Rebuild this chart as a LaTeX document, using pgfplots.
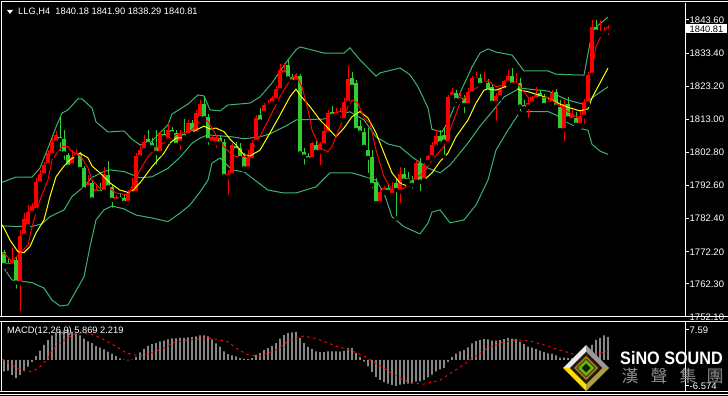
\documentclass[border=0pt]{standalone}
\usepackage{fontspec}
\setmainfont{Liberation Sans}
\newfontfamily\cjk{Noto Sans CJK TC}
\usepackage{pgfplots}
\usepackage{pgfplotstable}
\pgfplotsset{compat=1.18}

\definecolor{bbgreen}{HTML}{3CB371}
\definecolor{bullred}{HTML}{FF0000}
\definecolor{beargreen}{HTML}{32CD32}
\definecolor{maYellow}{HTML}{FFFF00}
\definecolor{histgray}{HTML}{D0D0D0}

\pgfplotstableread{
k o h l c
2 1767.9 1773.3 1767.6 1769.7
4 1762.5 1778.9 1753.4 1777.1
5 1777.1 1784.0 1775.8 1782.3
6 1780.1 1786.6 1779.5 1784.5
7 1784.2 1787.2 1783.5 1786.3
8 1785.1 1794.9 1784.4 1793.8
9 1793.3 1797.4 1792.8 1796.2
10 1795.8 1799.9 1795.2 1798.9
11 1798.9 1803.6 1798.3 1802.5
12 1802.0 1807.2 1801.4 1806.1
13 1805.8 1809.4 1805.1 1808.2
17 1798.8 1803.5 1798.3 1801.3
18 1801.5 1803.8 1800.5 1802.5
21 1792.1 1795.9 1791.2 1793.3
23 1790.4 1792.8 1789.1 1791.4
25 1790.7 1798.4 1790.3 1796.2
28 1787.9 1789.7 1787.2 1789.0
31 1787.3 1791.2 1785.9 1790.2
32 1790.2 1794.9 1789.7 1791.2
33 1790.3 1802.6 1789.7 1801.7
34 1801.3 1805.1 1800.8 1803.5
35 1803.5 1808.2 1802.9 1806.1
39 1802.7 1809.4 1802.3 1808.5
41 1806.6 1811.8 1806.0 1809.7
44 1805.8 1809.7 1803.0 1808.7
46 1808.2 1812.8 1807.5 1811.9
48 1808.7 1815.9 1808.2 1815.0
49 1813.3 1819.0 1812.8 1817.7
52 1805.8 1808.2 1804.5 1807.5
53 1805.6 1808.2 1803.5 1807.5
56 1795.3 1797.4 1789.2 1796.2
57 1795.8 1805.7 1795.2 1805.1
61 1797.9 1803.5 1797.4 1801.5
62 1800.5 1806.6 1799.8 1805.8
63 1806.1 1814.3 1805.7 1813.3
65 1815.0 1818.0 1814.3 1817.4
66 1817.4 1819.0 1816.5 1818.1
67 1817.9 1820.2 1817.4 1819.5
68 1818.9 1823.3 1818.3 1822.3
69 1822.0 1830.0 1821.4 1828.2
70 1826.9 1830.3 1826.3 1828.2
73 1824.6 1827.3 1823.9 1826.3
77 1800.7 1806.0 1800.2 1805.6
79 1803.0 1806.0 1798.3 1805.4
80 1805.1 1811.3 1804.5 1809.5
81 1808.7 1815.9 1808.2 1814.9
83 1814.3 1816.5 1813.7 1815.4
84 1814.6 1816.5 1812.8 1815.6
85 1812.8 1819.6 1812.2 1818.4
86 1818.1 1829.4 1817.7 1825.3
94 1787.2 1791.5 1786.6 1790.6
95 1790.7 1792.5 1790.3 1791.8
97 1789.7 1793.7 1789.1 1791.4
99 1790.7 1798.4 1786.6 1796.2
103 1793.8 1800.5 1793.1 1799.5
105 1794.3 1799.5 1793.7 1798.9
106 1799.9 1802.0 1799.5 1801.7
107 1801.3 1806.0 1800.8 1805.1
108 1804.6 1809.7 1804.2 1807.9
111 1805.6 1820.5 1805.1 1819.8
112 1820.0 1822.7 1819.6 1821.5
114 1818.9 1821.4 1818.3 1820.0
116 1817.4 1822.7 1816.8 1821.5
117 1821.0 1826.3 1820.5 1825.6
118 1825.3 1827.7 1824.8 1826.1
120 1824.1 1827.7 1823.6 1824.9
123 1818.1 1821.1 1811.9 1820.2
124 1819.8 1822.7 1819.3 1822.3
125 1822.0 1825.1 1821.4 1824.9
126 1824.3 1828.2 1823.6 1826.4
128 1823.6 1827.2 1823.0 1824.3
131 1816.9 1819.6 1812.8 1818.1
132 1817.9 1820.2 1817.4 1819.5
133 1819.2 1822.9 1818.6 1820.5
136 1817.9 1819.6 1817.4 1818.7
137 1817.9 1822.0 1817.4 1821.2
140 1809.7 1818.9 1805.6 1817.7
142 1812.8 1815.9 1812.2 1814.6
144 1811.3 1815.9 1810.6 1813.8
145 1813.8 1819.2 1810.9 1818.4
146 1817.9 1827.6 1817.4 1826.7
147 1826.7 1843.6 1826.0 1841.5
149 1839.5 1843.6 1839.0 1840.0
150 1839.7 1841.4 1839.0 1840.3
151 1840.18 1841.90 1838.29 1840.81
}\bull

\pgfplotstableread{
k o h l c
0 1772.2 1772.7 1767.6 1768.1
1 1768.6 1769.9 1766.6 1767.9
3 1769.7 1770.7 1760.2 1762.7
14 1807.5 1814.0 1802.6 1806.6
15 1806.8 1809.7 1799.9 1802.5
16 1802.0 1802.6 1797.4 1798.4
19 1802.3 1802.9 1797.1 1797.7
20 1797.9 1798.6 1790.9 1791.4
22 1793.3 1794.3 1787.8 1788.3
24 1791.2 1793.4 1789.1 1790.4
26 1795.8 1800.2 1791.5 1792.1
27 1792.1 1792.8 1785.1 1788.2
29 1789.2 1790.3 1787.5 1788.4
30 1788.9 1789.7 1786.6 1787.3
36 1806.8 1809.7 1804.8 1805.4
37 1805.6 1807.2 1803.5 1804.4
38 1804.6 1809.7 1798.4 1802.7
40 1808.5 1809.7 1806.6 1807.5
42 1809.7 1810.6 1807.9 1808.7
43 1808.7 1809.7 1804.5 1805.1
45 1808.5 1813.0 1806.6 1807.5
47 1811.8 1812.8 1808.2 1808.7
50 1817.7 1819.8 1812.8 1813.3
51 1813.7 1814.6 1804.5 1806.6
54 1807.2 1808.2 1804.5 1805.6
55 1806.1 1806.9 1794.3 1795.5
58 1804.8 1806.0 1802.9 1803.5
59 1804.1 1805.7 1800.5 1801.0
60 1801.5 1802.6 1797.4 1797.9
64 1814.3 1816.5 1811.3 1812.3
71 1829.7 1831.3 1825.1 1825.6
72 1826.1 1827.0 1823.9 1824.6
74 1826.3 1826.9 1801.7 1802.5
75 1803.0 1804.2 1798.4 1801.5
76 1801.7 1802.6 1799.8 1800.7
78 1805.1 1806.3 1802.0 1803.0
82 1815.2 1817.1 1813.4 1814.1
87 1825.7 1827.6 1822.0 1823.0
88 1824.1 1825.1 1808.8 1809.7
89 1810.9 1812.8 1807.9 1808.9
90 1809.1 1810.3 1803.5 1804.5
91 1803.5 1810.3 1795.8 1801.1
92 1801.4 1803.5 1791.2 1792.8
93 1793.7 1794.9 1786.6 1787.2
96 1791.8 1792.8 1790.3 1790.7
98 1793.3 1794.9 1782.5 1791.2
100 1796.2 1798.0 1793.7 1794.1
101 1794.9 1796.8 1792.8 1794.1
102 1794.3 1795.5 1791.2 1792.8
104 1799.5 1801.0 1790.2 1793.8
109 1807.9 1809.7 1804.8 1805.6
110 1808.2 1810.3 1801.5 1806.1
113 1821.0 1822.0 1817.4 1818.9
115 1819.5 1820.5 1814.3 1817.4
119 1825.6 1826.9 1822.7 1823.6
121 1824.3 1825.3 1820.8 1821.5
122 1822.9 1823.9 1817.4 1818.1
127 1826.4 1828.8 1822.9 1823.6
129 1824.3 1825.7 1814.8 1816.9
130 1817.4 1818.9 1815.3 1816.4
134 1821.0 1822.0 1818.9 1819.5
135 1819.8 1820.8 1816.5 1817.4
138 1821.5 1822.3 1815.9 1816.9
139 1816.9 1818.9 1809.1 1809.7
141 1817.7 1819.8 1812.8 1813.3
143 1813.3 1815.3 1810.3 1811.3
148 1841.5 1843.6 1839.6 1840.0
}\bear

\pgfplotstableread{
k v
0 -2.9
1 -2.7
2 -3.8
3 -4.6
4 -3.8
5 -2.7
6 -1.7
7 -0.5
8 1.0
9 2.4
10 3.8
11 5.0
12 6.2
13 7.0
14 7.4
15 7.5
16 7.59
17 7.2
18 6.7
19 6.2
20 5.4
21 4.7
22 4.3
23 3.5
24 3.1
25 2.7
26 2.1
27 1.6
28 1.0
29 0.4
30 0.1
31 -0.1
32 0.1
33 0.8
34 1.9
35 2.8
36 3.6
37 4.0
38 4.3
39 4.7
40 4.9
41 5.2
42 5.5
43 5.5
44 5.6
45 5.6
46 5.7
47 5.8
48 6.0
49 6.2
50 6.2
51 6.0
52 5.2
53 4.2
54 3.4
55 2.2
56 1.5
57 1.2
58 0.9
59 0.5
60 0.3
61 0.2
62 0.5
63 1.3
64 1.8
65 2.5
66 3.0
67 3.6
68 4.3
69 5.4
70 6.3
71 6.8
72 7.0
73 7.1
74 5.6
75 4.3
76 3.3
77 2.8
78 2.2
79 2.0
80 2.0
81 2.2
82 2.2
83 2.2
84 2.1
85 2.3
86 3.0
87 3.0
88 1.8
89 0.8
90 -0.4
91 -1.6
92 -3.0
93 -4.3
94 -5.0
95 -5.6
96 -6.0
97 -6.3
98 -6.574
99 -6.2
100 -6.1
101 -6.0
102 -6.0
103 -5.5
104 -5.4
105 -5.0
106 -4.4
107 -3.7
108 -2.9
109 -2.4
110 -2.0
111 -0.5
112 0.8
113 1.6
114 2.2
115 2.5
116 3.2
117 4.2
118 4.8
119 5.0
120 5.3
121 5.2
122 4.9
123 4.9
124 5.0
125 5.3
126 5.6
127 5.4
128 5.3
129 4.6
130 4.0
131 3.4
132 3.1
133 2.8
134 2.4
135 2.0
136 1.7
137 1.6
138 1.2
139 0.6
140 0.6
141 0.5
142 0.4
143 0.3
144 0.3
145 0.8
146 2.0
147 3.8
148 5.1
149 5.6
150 6.2
151 5.869
}\macd

\begin{document}
\begin{tikzpicture}[x=1pt,y=1pt]
\useasboundingbox (0,0) rectangle (728,396);
\fill[black] (0,0) rectangle (728,396);

% ---------------- main price chart ----------------
\begin{axis}[
  at={(2pt,79pt)}, anchor=south west,
  scale only axis, width=683pt, height=314pt,
  xmin=-0.5, xmax=170.25, ymin=1752.1, ymax=1848.83,
  axis x line=none, axis y line*=right,
  y axis line style={white, line width=1pt},
  tick align=outside, major tick length=4pt,
  ytick style={white, line width=1pt},
  scaled y ticks=false,
  ytick={1752.1,1762.3,1772.2,1782.4,1792.6,1802.8,1813.0,1823.2,1833.4,1843.6},
  yticklabels={1752.10,1762.30,1772.20,1782.40,1792.60,1802.80,1813.00,1823.20,1833.40,1843.60},
  yticklabel style={font=\fontsize{9.5}{10}\selectfont, text=white, inner sep=0pt, anchor=west},
  yticklabel shift=0.5pt,
]
% Bollinger upper
\addplot[bbgreen, line width=1pt] coordinates {(-0.5,1793.6) (0,1793.8) (3,1795.2) (7,1795.2) (9,1798.0) (11.5,1805.7) (13,1810.6) (14.5,1814.9) (16,1815.9) (18.5,1819.3) (19.5,1819.3) (22,1816.5) (23,1812.2) (26,1809.1) (30,1809.4) (32,1806.9) (34,1805.1) (36.5,1805.7) (39,1808.8) (41,1811.3) (42,1814.6) (46,1817.7) (48.5,1820.5) (50,1820.2) (51.5,1815.9) (54,1815.6) (56,1817.4) (61.5,1818.0) (64,1819.9) (67,1824.2) (71,1831.3) (73,1834.4) (74,1835.3) (80,1833.4) (85,1833.4) (86.5,1835.0) (89,1831.3) (93,1826.3) (94,1827.3) (99,1828.8) (101.5,1826.7) (103.5,1823.0) (106,1816.5) (107,1809.9) (109.5,1809.1) (111,1812.2) (114,1821.1) (117,1829.1) (119,1833.4) (121,1834.7) (123,1833.7) (127,1832.8) (130,1827.9) (136,1827.9) (138,1826.9) (145,1826.6) (146.5,1836.5) (148,1841.4) (151,1844.5)};
% Bollinger middle
\addplot[bbgreen, line width=1pt] coordinates {(-0.5,1780.1) (0,1780.1) (4,1780.0) (7,1780.0) (9.5,1780.8) (11.5,1783.0) (15,1785.1) (17,1789.2) (20,1792.3) (22,1795.1) (25,1796.9) (26.5,1797.4) (30,1796.9) (34,1795.0) (37,1795.3) (41,1797.9) (44,1801.3) (47,1805.6) (49,1807.2) (51,1808.2) (54,1807.9) (57,1807.6) (60,1807.0) (64,1807.6) (66.5,1808.5) (71,1811.3) (73,1812.8) (80,1813.1) (83,1814.3) (86.5,1815.3) (90,1812.8) (93,1807.6) (96,1805.4) (99,1804.5) (102,1801.4) (106,1798.0) (109,1796.5) (111.5,1798.9) (116,1805.7) (119,1810.9) (122,1815.3) (125,1819.9) (129,1822.6) (136,1821.7) (141,1818.9) (145,1817.6) (148,1820.5) (151,1823.0)};
% Bollinger lower
\addplot[bbgreen, line width=1pt] coordinates {(-0.5,1767.5) (0,1767.1) (2,1763.5) (7,1762.7) (10,1761.0) (12,1757.3) (14,1755.5) (16,1755.8) (17,1758.0) (20,1764.5) (21.5,1773.8) (23,1782.0) (25,1785.1) (27,1786.3) (30,1785.4) (33,1783.5) (37,1782.6) (41,1781.5) (44,1784.1) (46.5,1786.6) (49,1790.6) (51,1794.3) (52,1799.5) (54,1801.1) (57,1797.4) (60,1796.8) (66,1791.2) (70,1790.3) (73,1790.3) (78,1792.2) (81.5,1796.5) (87,1796.5) (93,1794.3) (95,1790.3) (97,1783.0) (100,1779.9) (104,1777.7) (106,1781.0) (107,1784.4) (109,1785.1) (111.5,1781.1) (115,1782.0) (118,1786.6) (121,1794.3) (123,1803.5) (126,1809.7) (129,1815.3) (136,1815.4) (138,1814.3) (141,1811.9) (144,1810.2) (146,1809.6) (147,1805.3) (149,1803.2) (151,1802.2)};

% candles: wicks
\addplot[only marks, mark=none, error bars/.cd, y dir=plus, y explicit, error mark=none,
  error bar style={draw=bullred, line width=1pt}]
  table[x=k, y=l, y error expr=\thisrow{h}-\thisrow{l}] {\bull};
\addplot[only marks, mark=none, error bars/.cd, y dir=plus, y explicit, error mark=none,
  error bar style={draw=beargreen, line width=1pt}]
  table[x=k, y=l, y error expr=\thisrow{h}-\thisrow{l}] {\bear};
% candles: bodies
\addplot[only marks, mark=none, error bars/.cd, y dir=plus, y explicit, error mark=none,
  error bar style={draw=bullred, line width=3.2pt}]
  table[x=k, y=o, y error expr=\thisrow{c}-\thisrow{o}] {\bull};
\addplot[only marks, mark=none, error bars/.cd, y dir=plus, y explicit, error mark=none,
  error bar style={draw=beargreen, line width=3.2pt}]
  table[x=k, y=c, y error expr=\thisrow{o}-\thisrow{c}] {\bear};

% yellow MA
\addplot[maYellow, line width=1pt] coordinates {(-0.5,1780.5) (0,1779.5) (1.5,1775.8) (3.5,1772.2) (5,1771.9) (6.5,1773.8) (8,1778.0) (10,1782.0) (11.5,1789.2) (13,1795.3) (15,1798.6) (16.5,1800.5) (19,1802.6) (21,1801.1) (22,1798.6) (24,1796.5) (26.5,1793.4) (29,1791.2) (31.5,1790.3) (34,1793.4) (37,1798.4) (40,1802.6) (41.5,1805.7) (43,1807.2) (46,1807.5) (48,1809.7) (50,1810.9) (51.5,1810.0) (53,1810.3) (55,1809.2) (56.5,1806.9) (58,1805.1) (60,1802.0) (61.5,1801.7) (64,1803.5) (66.5,1808.8) (69,1814.3) (71.5,1820.0) (73,1822.3) (74,1820.5) (76.5,1816.9) (79,1812.8) (81,1810.3) (83,1807.6) (85,1810.3) (87,1813.8) (89,1815.4) (91,1813.4) (93,1808.8) (95,1802.6) (97,1796.5) (99,1793.4) (101,1792.3) (102,1792.8) (105,1794.3) (107,1796.5) (109,1800.0) (111,1802.6) (113,1807.6) (116,1812.8) (118,1818.0) (120,1822.0) (121,1822.3) (123,1822.0) (126.5,1823.6) (129,1822.0) (131,1821.5) (136,1819.6) (139,1817.7) (141.5,1816.5) (144,1815.6) (146,1816.2) (147,1819.6) (149,1824.2) (151,1828.8)};
% red fast MA
\addplot[bullred, line width=1pt] coordinates {(-0.5,1771.5) (0,1771.8) (2,1769.2) (4,1771.8) (6,1774.3) (7,1779.9) (9,1788.2) (11,1794.3) (12,1800.5) (14.5,1804.6) (16,1804.6) (17,1803.0) (19,1802.0) (21,1798.0) (22,1794.3) (24,1791.8) (26,1792.2) (28,1790.3) (31,1789.7) (32,1792.3) (34,1797.4) (36,1801.5) (38,1804.2) (41,1806.6) (43,1808.2) (46,1809.2) (47,1809.7) (49.5,1813.4) (51,1812.3) (53,1808.2) (55,1804.6) (56.5,1802.6) (58,1801.5) (60,1801.4) (61.5,1802.6) (64,1807.7) (66.5,1813.8) (69,1820.0) (71.5,1825.1) (73,1826.7) (74.5,1823.0) (76,1815.9) (77,1809.7) (79,1804.2) (81,1803.0) (82,1804.6) (84,1810.7) (86,1816.9) (87,1818.9) (88.5,1818.0) (90,1813.4) (91.5,1811.9) (93,1803.5) (95,1795.3) (97,1791.2) (100,1791.8) (102,1794.3) (105,1796.5) (107,1800.5) (110,1804.6) (111.5,1809.7) (114,1818.0) (116.5,1821.5) (119,1823.3) (121,1824.9) (123,1823.0) (126,1823.9) (128,1824.6) (131,1819.8) (133,1819.6) (136,1819.8) (138,1818.0) (141,1815.3) (143,1813.8) (145,1813.8) (146.5,1825.1) (148,1835.4) (150,1840.5) (151,1841.5)};
\end{axis}

% cover lower part of last price label under the separator
\fill[black] (0,0) rectangle (728,75.5);

% ---------------- MACD panel ----------------
\begin{axis}[
  at={(2pt,4pt)}, anchor=south west,
  scale only axis, width=683pt, height=70pt,
  xmin=-0.5, xmax=170.25, ymin=-8.096, ymax=9.614,
  axis x line=none, axis y line*=right,
  y axis line style={white, line width=1pt},
  tick align=outside, major tick length=4pt,
  ytick style={white, line width=1pt},
  scaled y ticks=false,
  ytick={-6.574,7.59}, yticklabels={-6.574,7.59},
  yticklabel style={font=\fontsize{9.5}{10}\selectfont, text=white, inner sep=0pt, anchor=west},
  yticklabel shift=0.5pt,
]
\addplot[ybar, bar width=1.1pt, fill=histgray, draw=none] table[x=k, y=v] {\macd};
\addplot[bullred, line width=1pt, dash pattern=on 2.5pt off 3.5pt] coordinates {(-0.5,0.2) (0,0) (2,-1.3) (5,-2.8) (7,-3.0) (9,-1.7) (11,0.5) (12,2.5) (14,4.3) (16,5.6) (18,6.8) (21,6.8) (23,6.1) (26,4.6) (28,3.4) (30,2.1) (32,1.3) (35,1.1) (37,1.9) (40,3.0) (42,4.3) (46,5.1) (49,5.3) (52,5.5) (56,4.6) (58,3.0) (61,1.3) (64,1.0) (68,2.5) (71.5,5.1) (75,6.1) (79,5.1) (83,3.5) (86.5,2.5) (90,1.0) (94,-1.5) (98,-4.0) (101.5,-5.8) (105,-6.1) (109,-5.1) (113,-2.5) (116.5,0) (120,2.5) (124,4.3) (128,5.1) (131.5,4.8) (135,3.8) (139,2.5) (143,1.3) (146,0.8) (148,1.5) (151,2.219)};
\end{axis}

% ---------------- window frames ----------------
\begin{scope}[white, line width=1pt]
\draw (1.5,394.5) -- (728,394.5);
\draw (1.5,394.5) -- (1.5,79.5);
\draw (0,79.5) -- (728,79.5);
\draw (0,74.5) -- (728,74.5);
\draw (1.5,74.5) -- (1.5,4);
\draw (0,4) -- (728,4);
\draw (0,1) -- (728,1);
\end{scope}

% title
\fill[white] (7,386) -- (13,386) -- (10,382) -- cycle;
\node[anchor=west, text=white, inner sep=0pt, font=\fontsize{9.3}{10}\selectfont] at (18,384) {LLG,H4\ \ 1840.18 1841.90 1838.29 1840.81};
% current price box
\fill[white] (686,362.5) rectangle (727,371.5);
\node[text=black, inner sep=0pt, font=\fontsize{9.3}{10}\selectfont] at (706.5,367) {1840.81};
% MACD label
\node[anchor=west, text=white, inner sep=0pt, font=\fontsize{9.3}{10}\selectfont] at (7,65) {MACD(12,26,9) 5.869 2.219};

% ---------------- watermark ----------------
\begin{scope}[shift={(586,28)}]
\fill[white!92!black] (-23,0) -- (0,23) -- (0,16) -- (-16,0) -- cycle;
\fill[white!60!black] (0,23) -- (23,0) -- (16,0) -- (0,16) -- cycle;
\fill[black!40!yellow!80!brown] (23,0) -- (0,-23) -- (0,-16) -- (16,0) -- cycle;
\fill[yellow!80!orange] (0,-23) -- (-23,0) -- (-16,0) -- (0,-16) -- cycle;
\fill[black!80!brown] (-16,0) -- (0,16) -- (16,0) -- (0,-16) -- cycle;
\fill[brown!70!yellow!80!black] (-12,0) -- (0,12) -- (12,0) -- (0,-12) -- cycle;
\fill[black!20!brown!60!black] (-10,0) -- (0,10) -- (10,0) -- (0,-10) -- cycle;
\fill[green!50!yellow!75!black] (-8,0) -- (0,8) -- (8,0) -- (0,-8) -- cycle;
\fill[black!90] (-4.5,0) -- (0,4.5) -- (4.5,0) -- (0,-4.5) -- cycle;
\end{scope}
\node[text=white, inner sep=0pt, font=\bfseries\fontsize{18}{20}\selectfont, xscale=0.9] at (671.5,38) {SiNO SOUND};
\begin{scope}[every node/.style={text=white!55!black, inner sep=0pt, font=\cjk\fontsize{17}{18}\selectfont}]
\node at (630,20) {漢};
\node at (659,20) {聲};
\node at (688,20) {集};
\node at (715,20) {團};
\end{scope}
\end{tikzpicture}
\end{document}
